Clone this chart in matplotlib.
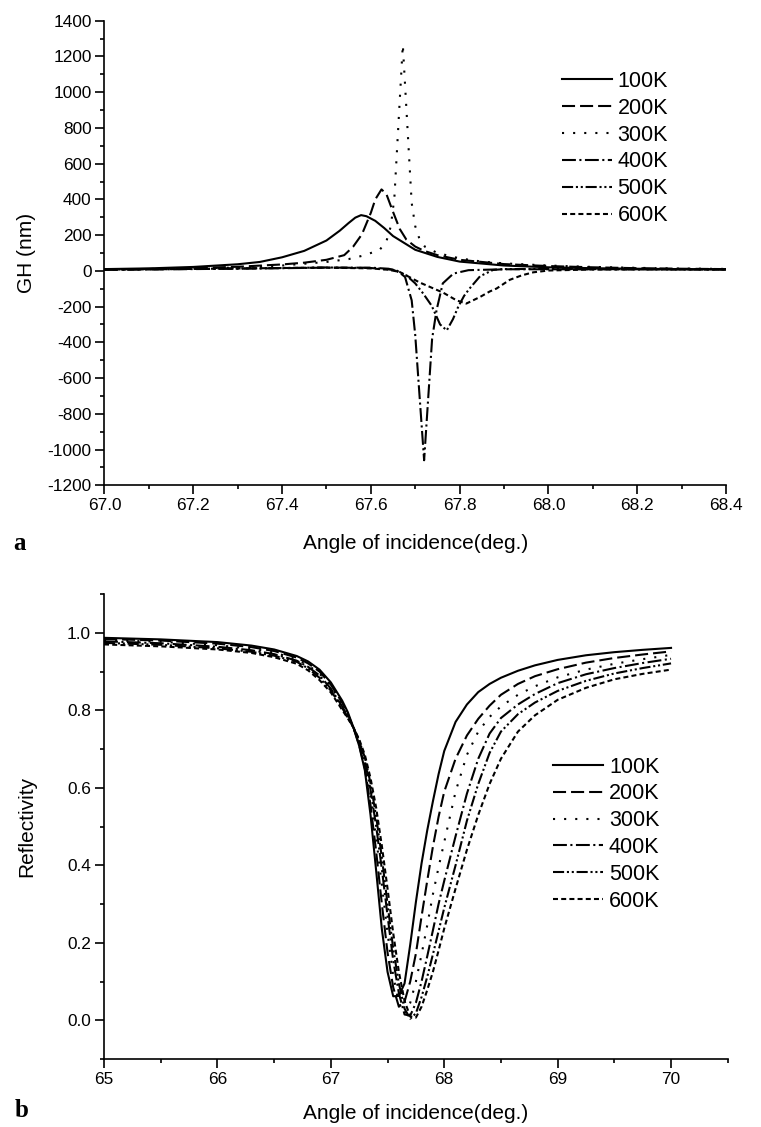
import matplotlib
matplotlib.use("Agg")
import matplotlib.pyplot as plt
from matplotlib.ticker import MultipleLocator, FormatStrFormatter

plt.rcParams['font.family'] = ['Liberation Sans', 'DejaVu Sans']
plt.rcParams['axes.unicode_minus'] = False
plt.rcParams['lines.scale_dashes'] = False

temps = ['100K', '200K', '300K', '400K', '500K', '600K']

# (a) GH shift vs angle, one x list per curve (peaks sit at different angles)
gh_x_100 = [67.0, 67.1, 67.2, 67.3, 67.35, 67.4, 67.45, 67.5, 67.53, 67.55, 67.565, 67.578,
            67.59, 67.61, 67.63, 67.65, 67.7, 67.75, 67.8, 67.9, 68.0, 68.1, 68.2, 68.3, 68.4]
gh_y_100 = [10, 14, 22, 37, 50, 76, 112, 170, 225, 268, 298, 312,
            306, 280, 240, 195, 118, 78, 52, 30, 20, 15, 12, 10, 9]

gh_x_200 = [67.0, 67.1, 67.2, 67.3, 67.4, 67.45, 67.5, 67.54, 67.56, 67.58, 67.6, 67.61, 67.624,
            67.635, 67.65, 67.665, 67.68, 67.7, 67.72, 67.75, 67.8, 67.9, 68.0, 68.1, 68.2, 68.3, 68.4]
gh_y_200 = [8, 11, 16, 23, 36, 46, 62, 88, 135, 205, 325, 400, 456,
            430, 330, 235, 175, 136, 112, 88, 62, 38, 27, 20, 15, 12, 10]

gh_x_300 = [67.0, 67.1, 67.2, 67.3, 67.4, 67.5, 67.55, 67.58, 67.6, 67.62, 67.635, 67.645, 67.653,
            67.672, 67.692, 67.7, 67.71, 67.722, 67.75, 67.8, 67.85, 67.9, 68.0, 68.1, 68.2, 68.3, 68.4]
gh_y_300 = [7, 9, 13, 19, 30, 50, 66, 84, 100, 118, 165, 250, 410,
            1265, 380, 250, 175, 135, 100, 70, 52, 42, 30, 22, 17, 13, 11]

gh_x_400 = [67.0, 67.2, 67.4, 67.5, 67.6, 67.64, 67.66, 67.677, 67.692, 67.7, 67.72, 67.738,
            67.748, 67.762, 67.786, 67.82, 67.9, 68.0, 68.2, 68.4]
gh_y_400 = [6, 10, 15, 18, 18, 12, 0, -34, -165, -360, -1060, -380,
            -220, -70, -15, 4, 9, 9, 8, 7]

gh_x_500 = [67.0, 67.2, 67.4, 67.5, 67.6, 67.65, 67.68, 67.7, 67.718, 67.737, 67.756, 67.771,
            67.785, 67.797, 67.81, 67.822, 67.846, 67.875, 67.9, 68.0, 68.2, 68.4]
gh_y_500 = [7, 11, 16, 19, 16, 6, -25, -70, -127, -195, -300, -333,
            -270, -200, -140, -100, -30, 5, 10, 11, 9, 8]

gh_x_600 = [67.0, 67.2, 67.4, 67.5, 67.6, 67.64, 67.665, 67.71, 67.763, 67.793, 67.815, 67.846,
            67.868, 67.883, 67.913, 67.94, 67.966, 68.0, 68.1, 68.2, 68.4]
gh_y_600 = [7, 11, 16, 18, 14, 6, -6, -65, -122, -165, -183, -146,
            -115, -99, -50, -25, -8, 2, 8, 9, 8]

# (b) reflectivity, common angle grid
ref_x = [65.0, 65.5, 66.0, 66.3, 66.5, 66.7, 66.8, 66.9, 67.0, 67.1,
         67.15, 67.2, 67.25, 67.3, 67.35, 67.4, 67.45, 67.5, 67.55, 67.6,
         67.65, 67.7, 67.75, 67.8, 67.85, 67.9, 67.95, 68.0, 68.1, 68.2,
         68.3, 68.4, 68.5, 68.65, 68.8, 69.0, 69.25, 69.5, 69.75, 70.0]
ref_100 = [0.987, 0.983, 0.976, 0.967, 0.957, 0.940, 0.926, 0.905, 0.872, 0.825,
           0.795, 0.755, 0.708, 0.645, 0.530, 0.385, 0.235, 0.125, 0.062, 0.063,
           0.095, 0.195, 0.305, 0.405, 0.490, 0.565, 0.635, 0.695, 0.770, 0.815,
           0.847, 0.868, 0.884, 0.902, 0.916, 0.930, 0.942, 0.950, 0.956, 0.961]
ref_200 = [0.984, 0.980, 0.972, 0.963, 0.953, 0.936, 0.921, 0.900, 0.866, 0.820,
           0.790, 0.755, 0.710, 0.650, 0.555, 0.435, 0.300, 0.175, 0.085, 0.035,
           0.048, 0.100, 0.172, 0.268, 0.360, 0.448, 0.525, 0.590, 0.675, 0.735,
           0.778, 0.812, 0.840, 0.868, 0.888, 0.906, 0.923, 0.935, 0.944, 0.952]
ref_300 = [0.981, 0.977, 0.968, 0.959, 0.949, 0.932, 0.916, 0.895, 0.861, 0.815,
           0.786, 0.755, 0.714, 0.660, 0.575, 0.470, 0.350, 0.225, 0.115, 0.045,
           0.017, 0.045, 0.100, 0.170, 0.245, 0.325, 0.395, 0.460, 0.590, 0.685,
           0.745, 0.783, 0.810, 0.840, 0.862, 0.885, 0.905, 0.920, 0.932, 0.943]
ref_400 = [0.978, 0.973, 0.964, 0.955, 0.945, 0.928, 0.912, 0.890, 0.856, 0.810,
           0.783, 0.755, 0.718, 0.670, 0.595, 0.500, 0.390, 0.270, 0.155, 0.070,
           0.015, 0.012, 0.045, 0.100, 0.165, 0.232, 0.300, 0.360, 0.475, 0.585,
           0.675, 0.740, 0.780, 0.815, 0.842, 0.870, 0.893, 0.909, 0.922, 0.933]
ref_500 = [0.974, 0.969, 0.960, 0.951, 0.941, 0.925, 0.908, 0.884, 0.851, 0.806,
           0.781, 0.755, 0.722, 0.678, 0.612, 0.525, 0.420, 0.300, 0.185, 0.095,
           0.030, 0.004, 0.018, 0.060, 0.112, 0.170, 0.230, 0.290, 0.400, 0.515,
           0.610, 0.690, 0.745, 0.790, 0.820, 0.850, 0.876, 0.895, 0.909, 0.921]
ref_600 = [0.970, 0.965, 0.957, 0.948, 0.937, 0.920, 0.903, 0.878, 0.846, 0.801,
           0.779, 0.755, 0.725, 0.685, 0.625, 0.548, 0.450, 0.340, 0.225, 0.125,
           0.050, 0.010, 0.007, 0.035, 0.078, 0.125, 0.180, 0.237, 0.340, 0.440,
           0.530, 0.610, 0.675, 0.745, 0.787, 0.827, 0.858, 0.880, 0.894, 0.905]

gh_x = [gh_x_100, gh_x_200, gh_x_300, gh_x_400, gh_x_500, gh_x_600]
gh_y = [gh_y_100, gh_y_200, gh_y_300, gh_y_400, gh_y_500, gh_y_600]
ref_y = [ref_100, ref_200, ref_300, ref_400, ref_500, ref_600]

line_styles = ['-', (0, (9.4, 3.6)), (0, (1.5, 6.5)), (0, (10, 2.5, 1.5, 2.5)),
               (0, (8, 2, 1.5, 2, 1.5, 2)), (0, (3.6, 2.3))]


def style_axes(ax):
    for side in ['top', 'right']:
        ax.spines[side].set_visible(False)
    for side in ['left', 'bottom']:
        ax.spines[side].set_linewidth(1.2)
    ax.tick_params(which='major', direction='out', length=6.3, width=1.2, labelsize=12.4, pad=3)
    ax.tick_params(which='minor', direction='out', length=3.2, width=1.2)


fig = plt.figure(figsize=(7.61, 11.27), dpi=100)

# panel a
ax1 = fig.add_axes([0.1373, 0.5694, 0.8167, 0.4122])
for i in range(6):
    ax1.plot(gh_x[i], gh_y[i], color='black', lw=1.5, linestyle=line_styles[i], label=temps[i])
ax1.set_xlim(67.0, 68.4)
ax1.set_ylim(-1200, 1400)
ax1.xaxis.set_major_locator(MultipleLocator(0.2))
ax1.xaxis.set_minor_locator(MultipleLocator(0.1))
ax1.xaxis.set_major_formatter(FormatStrFormatter('%.1f'))
ax1.yaxis.set_major_locator(MultipleLocator(200))
ax1.yaxis.set_minor_locator(MultipleLocator(100))
style_axes(ax1)
ax1.set_xlabel('Angle of incidence(deg.)', fontsize=15, va='baseline')
ax1.xaxis.set_label_coords(0.5, -0.137)
ax1.set_ylabel('GH (nm)', fontsize=15, va='baseline')
ax1.yaxis.set_label_coords(-0.117, 0.5)
ax1.legend(loc='upper left', bbox_to_anchor=(0.7381, 0.937), bbox_transform=fig.transFigure,
           frameon=False, fontsize=15.5, handlelength=2.32, handletextpad=0.28,
           labelspacing=0.27, borderpad=0, borderaxespad=0)

# panel b
ax2 = fig.add_axes([0.1367, 0.0603, 0.8196, 0.4126])
for i in range(6):
    ax2.plot(ref_x, ref_y[i], color='black', lw=1.5, linestyle=line_styles[i], label=temps[i])
ax2.set_xlim(65, 70.5)
ax2.set_ylim(-0.1, 1.1)
ax2.xaxis.set_major_locator(MultipleLocator(1))
ax2.xaxis.set_minor_locator(MultipleLocator(0.5))
ax2.xaxis.set_major_formatter(FormatStrFormatter('%d'))
ax2.yaxis.set_major_locator(MultipleLocator(0.2))
ax2.yaxis.set_minor_locator(MultipleLocator(0.1))
ax2.yaxis.set_major_formatter(FormatStrFormatter('%.1f'))
style_axes(ax2)
ax2.set_xlabel('Angle of incidence(deg.)', fontsize=15, va='baseline')
ax2.xaxis.set_label_coords(0.5, -0.129)
ax2.set_ylabel('Reflectivity', fontsize=15, va='baseline')
ax2.yaxis.set_label_coords(-0.115, 0.5)
ax2.legend(loc='upper left', bbox_to_anchor=(0.7267, 0.3287), bbox_transform=fig.transFigure,
           frameon=False, fontsize=15.5, handlelength=2.32, handletextpad=0.28,
           labelspacing=0.27, borderpad=0, borderaxespad=0)

fig.text(0.017, 1 - 550 / 1127, 'a', fontfamily='Liberation Serif', fontweight='bold',
         fontsize=18, va='baseline')
fig.text(0.0197, 1 - 1117 / 1127, 'b', fontfamily='Liberation Serif', fontweight='bold',
         fontsize=18, va='baseline')

fig.savefig('out.png', dpi=100)
